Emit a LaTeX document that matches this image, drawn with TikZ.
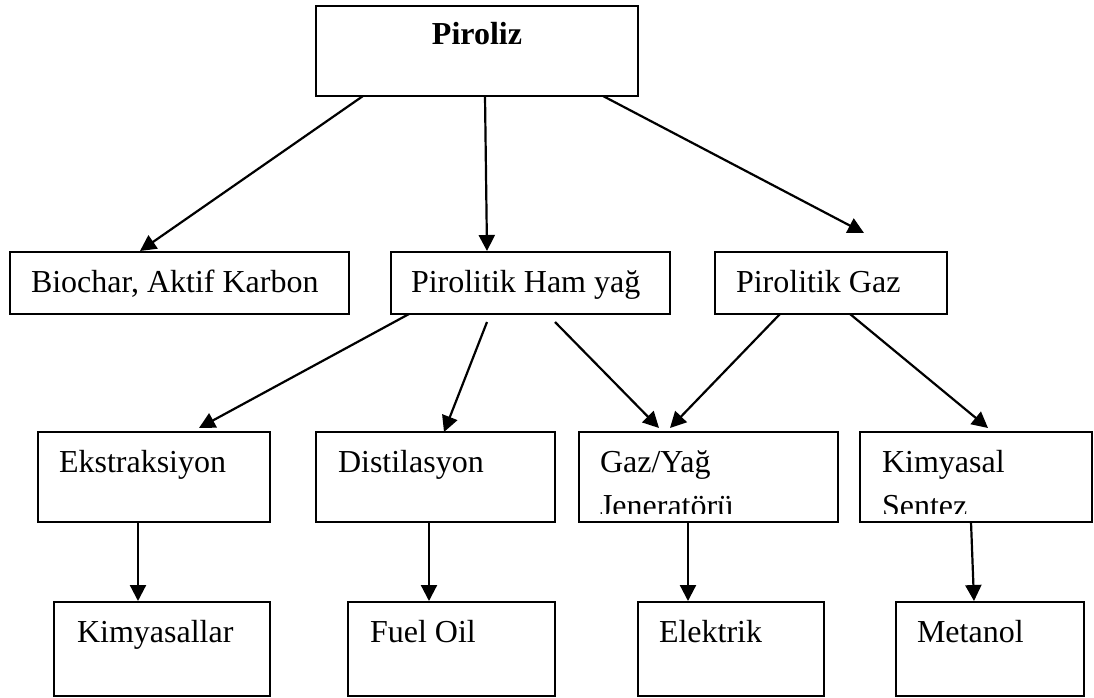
\documentclass[tikz,border=0pt]{standalone}
\usepackage{fontspec}
\setmainfont{Liberation Serif}
\usetikzlibrary{arrows.meta}
\tikzset{
  box/.style={draw, line width=1.6pt, rectangle, inner sep=0pt, outer sep=0pt},
  txt/.style={inner sep=0pt, outer sep=0pt, anchor=base west, font=\fontsize{32}{38}\selectfont},
  arr/.style={line width=2.2pt, -{Triangle[length=16pt,width=16pt]}}
}
\begin{document}
\begin{tikzpicture}[x=1pt,y=-1pt]
\useasboundingbox (0,0) rectangle (1094,698);
% boxes
\node[box, minimum width=322pt, minimum height=90pt] (pir) at (477,51) {};
\node[box, minimum width=339pt, minimum height=62pt] (bio) at (179.5,283) {};
\node[box, minimum width=279pt, minimum height=62pt] (ham) at (530.5,283) {};
\node[box, minimum width=232pt, minimum height=62pt] (gaz) at (831,283) {};
\node[box, minimum width=232pt, minimum height=90pt] (eks) at (154,477) {};
\node[box, minimum width=239pt, minimum height=90pt] (dis) at (435.5,477) {};
\node[box, minimum width=259pt, minimum height=90pt] (gen) at (708.5,477) {};
\node[box, minimum width=232pt, minimum height=90pt] (sen) at (976,477) {};
\node[box, minimum width=216pt, minimum height=94pt] (kim) at (162,649) {};
\node[box, minimum width=207pt, minimum height=94pt] (fuel) at (451.5,649) {};
\node[box, minimum width=186pt, minimum height=94pt] (elk) at (731,649) {};
\node[box, minimum width=188pt, minimum height=94pt] (met) at (990,649) {};
% texts
\node[txt, anchor=base] (tpir) at (477,45) {\textbf{Piroliz}};
\node[txt] (tbio) at (31,292) {Biochar, Aktif Karbon};
\node[txt] (tham) at (411,292) {Pirolitik Ham yağ};
\node[txt] (tgaz) at (736,292) {Pirolitik Gaz};
\node[txt] (teks) at (59,472) {Ekstraksiyon};
\node[txt] (tdis) at (338,472) {Distilasyon};
\node[txt] (tgen) at (600,472) {Gaz/Yağ};
\node[txt] (tsen) at (882,472) {Kimyasal};
\begin{scope}
  \clip (gen.north west) rectangle ([yshift=9pt]gen.south east);
  \node[txt] (tgen2) at (600,516) {Jeneratörü};
\end{scope}
\begin{scope}
  \clip (sen.north west) rectangle ([yshift=9pt]sen.south east);
  \node[txt] (tsen2) at (882,516) {Sentez};
\end{scope}
\node[txt] (tkim) at (77,642) {Kimyasallar};
\node[txt] (tfuel) at (370,642) {Fuel Oil};
\node[txt] (telk) at (659,642) {Elektrik};
\node[txt] (tmet) at (917,642) {Metanol};
% arrows
\draw[arr] ([xshift=47pt]pir.south west) -- ([xshift=130pt,yshift=1pt]bio.north west);
\draw[arr] ([xshift=169pt]pir.south west) -- ([xshift=96pt,yshift=1pt]ham.north west);
\draw[arr] ([xshift=287pt]pir.south west) -- ([xshift=149pt,yshift=19pt]gaz.north west);
\draw[arr] ([xshift=18pt]ham.south west) -- ([xshift=161pt,yshift=4pt]eks.north west);
\draw[arr] ([xshift=96pt,yshift=-8pt]ham.south west) -- ([xshift=128pt]dis.north west);
\draw[arr] ([xshift=164pt,yshift=-8pt]ham.south west) -- ([xshift=80pt,yshift=4pt]gen.north west);
\draw[arr] ([xshift=65pt]gaz.south west) -- ([xshift=91pt,yshift=4pt]gen.north west);
\draw[arr] ([xshift=135pt]gaz.south west) -- ([xshift=128pt,yshift=4pt]sen.north west);
\draw[arr] ([xshift=100pt]eks.south west) -- ([xshift=84pt,yshift=1pt]kim.north west);
\draw[arr] ([xshift=113pt]dis.south west) -- ([xshift=81pt,yshift=1pt]fuel.north west);
\draw[arr] ([xshift=109pt]gen.south west) -- ([xshift=50pt,yshift=1pt]elk.north west);
\draw[arr] ([xshift=111pt]sen.south west) -- ([xshift=78pt,yshift=1pt]met.north west);
\end{tikzpicture}
\end{document}
